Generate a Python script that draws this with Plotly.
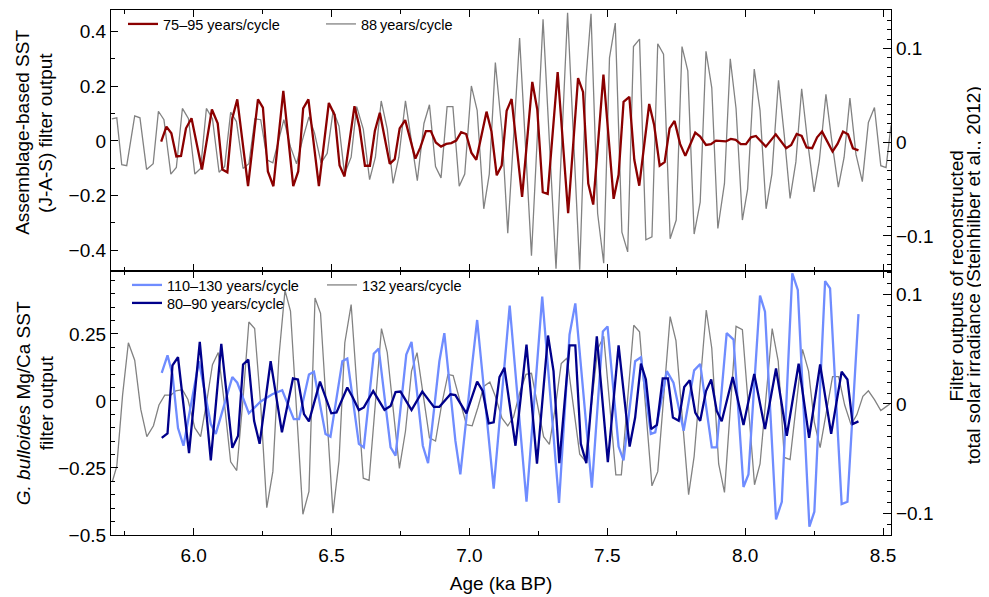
import plotly.graph_objects as go

# ---------------- data ----------------
# Top panel: Assemblage-based SST (J-A-S) filter output, 75-95 yr band (left axis)
red_x = [5.882, 5.901, 5.919, 5.937, 5.954, 5.972, 5.992, 6.030, 6.066, 6.087,
         6.104, 6.122, 6.140, 6.158, 6.197, 6.233, 6.251, 6.269, 6.289, 6.325,
         6.361, 6.379, 6.397, 6.416, 6.454, 6.490, 6.511, 6.529, 6.547, 6.583,
         6.601, 6.621, 6.639, 6.657, 6.675, 6.711, 6.729, 6.747, 6.767, 6.804,
         6.822, 6.842, 6.860, 6.878, 6.897, 6.916, 6.934, 6.952, 6.970, 6.988,
         7.007, 7.025, 7.062, 7.080, 7.099, 7.117, 7.135, 7.153, 7.191, 7.228,
         7.246, 7.266, 7.284, 7.320, 7.358, 7.394, 7.412, 7.431, 7.449, 7.486,
         7.523, 7.541, 7.559, 7.580, 7.598, 7.616, 7.652, 7.670, 7.690, 7.708,
         7.726, 7.744, 7.764, 7.783, 7.819, 7.837, 7.858, 7.876, 7.894, 7.930,
         7.948, 7.966, 7.984, 8.003, 8.021, 8.039, 8.075, 8.111, 8.149, 8.167,
         8.187, 8.205, 8.223, 8.243, 8.261, 8.279, 8.317, 8.335, 8.355, 8.373,
         8.391, 8.411]
red_y = [-0.003, 0.052, 0.028, -0.057, -0.055, 0.046, 0.083, -0.105, 0.115, 0.064,
         -0.105, -0.115, 0.083, 0.152, -0.166, 0.152, 0.122, -0.112, -0.166, 0.183,
         -0.166, -0.112, 0.119, 0.152, -0.166, 0.139, 0.095, -0.090, -0.130, 0.127,
         0.052, -0.091, -0.091, 0.036, 0.103, -0.084, -0.067, 0.046, 0.076, -0.065,
         -0.024, 0.036, 0.036, -0.006, -0.021, -0.011, -0.008, 0.001, 0.032, 0.025,
         -0.043, -0.069, 0.107, 0.034, -0.126, -0.090, 0.110, 0.153, -0.205, 0.216,
         0.115, -0.188, -0.194, 0.252, -0.265, 0.230, 0.179, -0.156, -0.233, 0.243,
         -0.212, -0.124, 0.143, 0.161, -0.069, -0.164, 0.135, 0.058, -0.091, -0.078,
         0.046, 0.073, -0.011, -0.055, 0.030, 0.016, -0.015, -0.012, 0.001, -0.002,
         0.007, 0.004, -0.012, -0.012, 0.013, 0.018, -0.021, 0.024, -0.027, -0.015,
         0.025, 0.018, -0.024, -0.027, 0.013, 0.034, -0.039, -0.011, 0.034, 0.024,
         -0.027, -0.035]

# Top panel: TSI filter output, 88 yr/cycle (right axis)
g88_x = [5.703, 5.721, 5.739, 5.757, 5.786, 5.805, 5.829, 5.853, 5.872, 5.892,
         5.917, 5.937, 5.959, 5.981, 6.004, 6.025, 6.046, 6.068, 6.092, 6.112,
         6.134, 6.155, 6.179, 6.200, 6.222, 6.243, 6.267, 6.287, 6.327, 6.351,
         6.373, 6.394, 6.418, 6.438, 6.462, 6.484, 6.506, 6.527, 6.547, 6.571,
         6.591, 6.615, 6.638, 6.659, 6.680, 6.702, 6.723, 6.744, 6.768, 6.790,
         6.811, 6.835, 6.855, 6.877, 6.897, 6.919, 6.940, 6.963, 6.983, 7.007,
         7.028, 7.052, 7.072, 7.094, 7.118, 7.139, 7.182, 7.225, 7.267, 7.314,
         7.356, 7.400, 7.423, 7.441, 7.465, 7.487, 7.508, 7.529, 7.553, 7.574,
         7.595, 7.617, 7.640, 7.662, 7.683, 7.704, 7.728, 7.750, 7.771, 7.792,
         7.815, 7.837, 7.858, 7.879, 7.901, 7.925, 7.946, 7.967, 7.990, 8.009,
         8.033, 8.054, 8.076, 8.097, 8.121, 8.142, 8.163, 8.184, 8.205, 8.226,
         8.250, 8.269, 8.293, 8.314, 8.338, 8.359, 8.380, 8.402, 8.425, 8.447,
         8.469, 8.492, 8.511, 8.529]
g88_y = [0.025, 0.026, -0.024, -0.025, 0.028, 0.026, -0.029, -0.023, 0.033, 0.024,
         -0.034, -0.027, 0.036, 0.025, -0.034, -0.028, 0.036, 0.025, -0.032, -0.026,
         0.032, 0.022, -0.028, -0.023, 0.025, 0.024, -0.019, -0.022, 0.024, -0.005,
         -0.023, 0.002, 0.027, 0.010, -0.022, -0.012, 0.034, 0.017, -0.034, -0.016,
         0.038, 0.014, -0.040, -0.016, 0.044, 0.014, -0.044, -0.016, 0.044, 0.001,
         -0.041, 0.020, 0.040, -0.026, -0.038, 0.038, 0.038, -0.047, -0.034, 0.060,
         0.034, -0.071, -0.034, 0.085, 0.012, -0.097, 0.111, -0.121, 0.131, -0.135,
         0.138, -0.136, 0.069, 0.137, -0.076, -0.129, 0.090, 0.127, -0.096, -0.117,
         0.102, 0.110, -0.104, -0.101, 0.105, 0.094, -0.103, -0.083, 0.102, 0.076,
         -0.098, -0.064, 0.097, 0.058, -0.092, -0.044, 0.089, 0.036, -0.083, -0.050,
         0.078, 0.034, -0.071, -0.034, 0.066, 0.007, -0.060, -0.021, 0.057, 0.002,
         -0.053, -0.020, 0.051, 0.002, -0.048, -0.016, 0.047, -0.013, -0.042, 0.021,
         0.037, -0.025, -0.027, 0.018]

# Bottom panel: G. bulloides Mg/Ca SST filter output, 110-130 yr band (left axis)
lb_x = [5.884, 5.905, 5.923, 5.943, 5.963, 6.019, 6.062, 6.080, 6.140, 6.158,
        6.200, 6.243, 6.285, 6.321, 6.363, 6.382, 6.418, 6.436, 6.478, 6.496,
        6.539, 6.557, 6.599, 6.617, 6.653, 6.671, 6.714, 6.732, 6.771, 6.790,
        6.831, 6.850, 6.891, 6.909, 6.949, 6.967, 7.010, 7.028, 7.088, 7.146,
        7.207, 7.264, 7.325, 7.363, 7.384, 7.444, 7.484, 7.501, 7.541, 7.559,
        7.601, 7.622, 7.658, 7.674, 7.716, 7.740, 7.777, 7.815, 7.837, 7.879,
        7.897, 7.933, 7.958, 7.994, 8.012, 8.054, 8.072, 8.112, 8.133, 8.171,
        8.191, 8.233, 8.251, 8.290, 8.308, 8.350, 8.371, 8.411]
lb_y = [0.105, 0.170, 0.099, -0.101, -0.167, 0.148, -0.086, -0.123, 0.089, 0.068,
        -0.046, -0.002, 0.025, 0.040, -0.068, -0.068, 0.099, 0.109, -0.123, -0.133,
        0.148, 0.158, -0.160, -0.173, 0.176, 0.195, -0.173, -0.204, 0.173, 0.220,
        -0.167, -0.232, 0.148, 0.253, -0.148, -0.274, 0.136, 0.302, -0.327, 0.356,
        -0.376, 0.389, -0.380, 0.247, 0.364, -0.323, 0.259, 0.278, -0.170, -0.222,
        0.148, 0.163, -0.123, -0.117, 0.111, 0.068, -0.111, 0.114, 0.138, -0.173,
        -0.173, 0.253, 0.229, -0.321, -0.274, 0.393, 0.333, -0.442, -0.376, 0.476,
        0.414, -0.469, -0.413, 0.447, 0.420, -0.385, -0.376, 0.324]

# Bottom panel: 80-90 yr band (left axis)
nv_x = [5.884, 5.905, 5.923, 5.943, 5.983, 6.022, 6.062, 6.100, 6.140, 6.161,
        6.179, 6.198, 6.219, 6.239, 6.279, 6.320, 6.360, 6.378, 6.400, 6.418,
        6.458, 6.478, 6.499, 6.518, 6.557, 6.577, 6.599, 6.617, 6.651, 6.692,
        6.714, 6.732, 6.750, 6.790, 6.829, 6.871, 6.891, 6.931, 6.949, 6.989,
        7.028, 7.048, 7.070, 7.088, 7.109, 7.127, 7.167, 7.207, 7.245, 7.285,
        7.305, 7.326, 7.363, 7.384, 7.404, 7.424, 7.462, 7.502, 7.541, 7.581,
        7.601, 7.622, 7.640, 7.659, 7.680, 7.701, 7.720, 7.738, 7.759, 7.779,
        7.799, 7.819, 7.837, 7.858, 7.877, 7.897, 7.915, 7.955, 7.994, 8.033,
        8.072, 8.112, 8.151, 8.194, 8.232, 8.272, 8.312, 8.350, 8.371, 8.390,
        8.411]
nv_y = [-0.138, -0.121, 0.133, 0.163, -0.195, 0.220, -0.222, 0.213, -0.175, -0.130,
        0.136, 0.154, -0.074, -0.160, 0.148, -0.117, 0.084, 0.080, -0.049, -0.076,
        0.072, 0.013, -0.046, -0.043, 0.050, 0.013, -0.034, -0.024, 0.037, -0.033,
        -0.019, 0.033, 0.035, -0.034, 0.035, -0.022, -0.022, 0.025, 0.022, -0.046,
        0.072, 0.037, -0.084, -0.080, 0.089, 0.124, -0.167, 0.210, -0.234, 0.244,
        0.111, -0.232, 0.207, 0.207, -0.160, -0.232, 0.241, -0.228, 0.207, -0.170,
        -0.062, 0.139, 0.080, -0.105, -0.089, 0.084, 0.084, -0.062, -0.074, 0.052,
        0.077, -0.043, -0.074, 0.037, 0.080, -0.037, -0.076, 0.089, -0.090, 0.101,
        -0.105, 0.121, -0.130, 0.139, -0.138, 0.136, -0.123, 0.109, 0.080, -0.086,
        -0.076]

# Bottom panel: TSI filter output, 132 yr/cycle (right axis)
g132_x = [5.705, 5.721, 5.742, 5.763, 5.786, 5.808, 5.830, 5.854, 5.874, 5.895,
          5.917, 5.935, 5.959, 5.979, 6.004, 6.025, 6.047, 6.068, 6.089, 6.112,
          6.134, 6.156, 6.179, 6.200, 6.221, 6.243, 6.265, 6.287, 6.309, 6.331,
          6.351, 6.373, 6.396, 6.418, 6.440, 6.460, 6.505, 6.527, 6.548, 6.571,
          6.593, 6.615, 6.636, 6.659, 6.681, 6.702, 6.746, 6.768, 6.790, 6.810,
          6.855, 6.877, 6.899, 6.922, 6.941, 6.989, 7.010, 7.031, 7.052, 7.074,
          7.094, 7.118, 7.139, 7.160, 7.182, 7.205, 7.225, 7.269, 7.290, 7.312,
          7.333, 7.354, 7.400, 7.420, 7.465, 7.487, 7.531, 7.551, 7.596, 7.617,
          7.662, 7.683, 7.728, 7.749, 7.795, 7.815, 7.859, 7.879, 7.904, 7.925,
          7.967, 7.990, 8.034, 8.054, 8.098, 8.120, 8.142, 8.163, 8.208, 8.230,
          8.251, 8.272, 8.317, 8.339, 8.361, 8.384, 8.405, 8.427, 8.447, 8.469,
          8.492, 8.514, 8.525]
g132_y = [-0.071, -0.057, 0.008, 0.056, 0.040, -0.005, -0.030, -0.020, -0.001, 0.008,
          0.008, 0.012, 0.013, 0.004, -0.022, -0.030, 0.002, 0.036, 0.047, -0.001,
          -0.053, -0.061, 0.005, 0.075, 0.069, -0.001, -0.095, -0.062, 0.043, 0.104,
          0.085, -0.004, -0.101, -0.080, 0.097, 0.083, -0.100, -0.052, 0.056, 0.091,
          0.012, -0.068, -0.070, 0.005, 0.069, 0.047, -0.059, -0.025, 0.030, 0.047,
          -0.031, -0.034, -0.001, 0.027, 0.026, -0.019, -0.020, -0.003, 0.016, 0.020,
          0.007, -0.013, -0.020, -0.012, 0.010, 0.027, 0.028, -0.030, -0.037, -0.002,
          0.037, 0.042, -0.046, -0.052, 0.050, 0.062, -0.065, -0.065, 0.072, 0.066,
          -0.075, -0.062, 0.080, 0.058, -0.083, -0.048, 0.086, 0.051, -0.055, -0.081,
          0.071, 0.068, -0.074, -0.055, 0.069, 0.039, -0.049, -0.051, 0.050, 0.030,
          -0.017, -0.040, 0.025, 0.025, -0.001, -0.019, -0.010, 0.007, 0.012, 0.004,
          -0.006, -0.002, 0.000]

# tick labels
x_ticks = [6.0, 6.5, 7.0, 7.5, 8.0, 8.5]
x_ticklabels = ["6.0", "6.5", "7.0", "7.5", "8.0", "8.5"]
top_left_ticks = [-0.4, -0.2, 0, 0.2, 0.4]
top_left_labels = ["\u22120.4", "\u22120.2", "0", "0.2", "0.4"]
bot_left_ticks = [-0.5, -0.25, 0, 0.25]
bot_left_labels = ["\u22120.5", "\u22120.25", "0", "0.25"]
right_ticks = [-0.1, 0, 0.1]
right_labels = ["\u22120.1", "0", "0.1"]

# ---------------- figure ----------------
FONT = "Liberation Sans, Arial, Helvetica, sans-serif"
C_RED = "#8b0000"
C_GRAY = "#828282"
C_LB = "#6f8cff"
C_NV = "#00008b"

fig = go.Figure()
fig.add_trace(go.Scatter(x=g88_x, y=g88_y, xaxis="x", yaxis="y", mode="lines",
                         line=dict(color=C_GRAY, width=1.3),
                         name="88\u2009years/cycle", legend="legend2"))
fig.add_trace(go.Scatter(x=red_x, y=red_y, xaxis="x", yaxis="y2", mode="lines",
                         line=dict(color=C_RED, width=2.3),
                         name="75\u201395 years/cycle", legend="legend"))
fig.add_trace(go.Scatter(x=g132_x, y=g132_y, xaxis="x2", yaxis="y3", mode="lines",
                         line=dict(color=C_GRAY, width=1.3),
                         name="132\u2009years/cycle", legend="legend4"))
fig.add_trace(go.Scatter(x=lb_x, y=lb_y, xaxis="x2", yaxis="y4", mode="lines",
                         line=dict(color=C_LB, width=2.3),
                         name="110\u2013130 years/cycle", legend="legend3"))
fig.add_trace(go.Scatter(x=nv_x, y=nv_y, xaxis="x2", yaxis="y4", mode="lines",
                         line=dict(color=C_NV, width=2.3),
                         name="80\u201390 years/cycle", legend="legend5"))

split = 0.5035
axcommon = dict(showline=True, linecolor="black", linewidth=1.3, showgrid=False,
                zeroline=False, ticks="inside", tickcolor="black", tickwidth=1.1,
                tickfont=dict(family=FONT, size=19, color="black"))

# The page body adds an 8 px offset, so the figure is 8 px smaller each way.
fig.update_layout(
    width=981, height=589,
    margin=dict(l=103, r=98, t=1, b=62),
    paper_bgcolor="white", plot_bgcolor="white",
    font=dict(family=FONT, size=19, color="black"),
    xaxis=dict(axcommon, domain=[0, 1], anchor="y", range=[5.7, 8.529],
               mirror="ticks", tickvals=x_ticks, showticklabels=False, ticklen=7,
               minor=dict(dtick=0.25, tick0=5.75, ticks="inside", ticklen=4,
                          tickcolor="black", showgrid=False)),
    xaxis2=dict(axcommon, domain=[0, 1], anchor="y3", range=[5.7, 8.529],
                mirror="ticks", tickvals=x_ticks, ticktext=x_ticklabels, ticklen=7,
                ticklabelstandoff=3,
                minor=dict(dtick=0.25, tick0=5.75, ticks="inside", ticklen=4,
                           tickcolor="black", showgrid=False),
                title=dict(text="Age (ka BP)", font=dict(family=FONT, size=19),
                           standoff=11)),
    yaxis=dict(axcommon, domain=[split, 1], anchor="x", side="right",
               range=[-0.137, 0.141], tickvals=right_ticks, ticktext=right_labels,
               ticklen=8,
               minor=dict(dtick=0.01, ticks="inside", ticklen=4, tickcolor="black",
                          showgrid=False)),
    yaxis2=dict(axcommon, overlaying="y", anchor="x", side="left",
                range=[-0.475, 0.479], tickvals=top_left_ticks,
                ticktext=top_left_labels, ticklen=7,
                minor=dict(dtick=0.1, tick0=0, ticks="inside", ticklen=4,
                           tickcolor="black", showgrid=False)),
    yaxis3=dict(axcommon, domain=[0, split], anchor="x2", side="right",
                range=[-0.120, 0.122], tickvals=right_ticks, ticktext=right_labels,
                ticklen=8,
                minor=dict(dtick=0.01, ticks="inside", ticklen=4, tickcolor="black",
                           showgrid=False)),
    yaxis4=dict(axcommon, overlaying="y3", anchor="x2", side="left",
                range=[-0.5, 0.486], tickvals=bot_left_ticks,
                ticktext=bot_left_labels, ticklen=7,
                minor=dict(dtick=0.05, tick0=0, ticks="inside", ticklen=4,
                           tickcolor="black", showgrid=False)),
    showlegend=True,
)

legfont = dict(family=FONT, size=14.5, color="black")
legbase = dict(bgcolor="rgba(0,0,0,0)", borderwidth=0, font=legfont,
               xanchor="left", yanchor="top", itemwidth=30, tracegroupgap=0)
fig.update_layout(
    legend=dict(legbase, x=0.0154, y=1.0019),
    legend2=dict(legbase, x=0.2692, y=1.0019),
    legend3=dict(legbase, x=0.0205, y=0.5057),
    legend5=dict(legbase, x=0.0205, y=0.4715),
    legend4=dict(legbase, x=0.2705, y=0.5057),
)

annfont = dict(family=FONT, size=19, color="black")
title_lines = [
    ("Assemblage-based SST", -0.1128, 0.766),
    ("(J-A-S) filter output", -0.0833, 0.766),
    ("<i>G. bulloides</i> Mg/Ca SST", -0.1128, 0.251),
    ("filter output", -0.0833, 0.251),
    ("Filter outputs of reconstructed", 1.0845, 0.494),
    ("total solar irradiance (Steinhilber et al., 2012)", 1.1060, 0.494),
]
for txt, ax_x, ax_y in title_lines:
    fig.add_annotation(text=txt, xref="paper", yref="paper", x=ax_x, y=ax_y,
                       xanchor="center", yanchor="middle", textangle=-90,
                       showarrow=False, font=annfont)

fig.write_html("out.html")
